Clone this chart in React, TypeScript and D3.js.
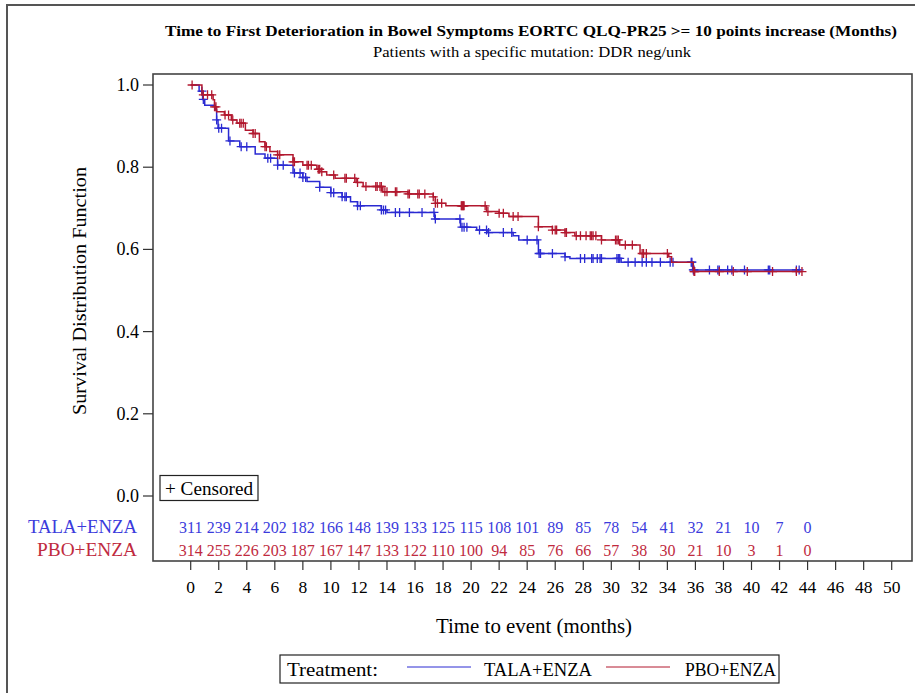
import React from "react";
import * as d3 from "d3";

// Kaplan–Meier estimates: event times (months) and survival right after each event
const talaEventMonths = [0.6, 0.85, 1.0, 1.75, 1.85, 1.95, 2.7, 3.5, 4.6, 5.3, 6.2, 7.3, 8.0, 8.3, 9.2, 10.0, 10.8, 11.4, 11.9, 13.6, 14.0, 17.4, 19.25, 20.4, 21.2, 23.0, 23.4, 24.8, 26.7, 27.05, 30.7, 35.8];
const talaSurvival = [0.985, 0.965, 0.951, 0.939, 0.915, 0.895, 0.864, 0.85, 0.832, 0.822, 0.805, 0.786, 0.775, 0.765, 0.751, 0.738, 0.728, 0.716, 0.706, 0.696, 0.69, 0.674, 0.654, 0.647, 0.641, 0.633, 0.623, 0.59, 0.582, 0.578, 0.569, 0.55];
const talaCensorMonths = [0.8, 0.9, 1.85, 2.0, 2.2, 2.8, 3.6, 4.0, 5.5, 5.7, 6.2, 6.6, 7.4, 7.8, 8.0, 8.2, 9.2, 10.0, 10.2, 10.8, 11.0, 11.1, 11.9, 12.1, 13.6, 13.75, 13.9, 14.6, 14.9, 15.6, 16.5, 17.35, 17.45, 19.2, 19.35, 19.5, 19.7, 20.6, 21.1, 21.25, 22.3, 22.9, 24.0, 24.7, 24.85, 24.95, 25.8, 26.7, 27.8, 28.1, 28.6, 28.7, 29.0, 29.2, 29.3, 30.4, 30.5, 30.6, 31.2, 31.7, 32.2, 32.5, 32.9, 33.5, 34.2, 34.4, 35.7, 35.75, 35.85, 35.9, 37.0, 37.6, 37.7, 38.3, 38.6, 39.5, 41.2, 41.3, 43.2, 43.4];
const talaLastMonth = 43.4;

const pboEventMonths = [0.8, 1.6, 1.7, 1.85, 2.4, 2.9, 3.3, 3.9, 4.45, 4.9, 5.3, 5.65, 6.2, 7.3, 8.0, 9.0, 9.3, 9.7, 10.3, 11.8, 12.3, 13.7, 15.5, 17.3, 17.45, 18.2, 21.1, 22.0, 22.7, 24.8, 25.8, 26.7, 27.4, 29.3, 30.6, 32.05, 34.1, 34.3, 35.85];
const pboSurvival = [0.976, 0.964, 0.947, 0.935, 0.927, 0.915, 0.907, 0.89, 0.882, 0.862, 0.85, 0.838, 0.83, 0.813, 0.805, 0.795, 0.789, 0.781, 0.773, 0.763, 0.753, 0.74, 0.735, 0.728, 0.712, 0.706, 0.692, 0.688, 0.68, 0.655, 0.647, 0.641, 0.633, 0.623, 0.611, 0.59, 0.582, 0.569, 0.546];
const pboCensorMonths = [0.1, 0.9, 1.2, 1.5, 1.7, 1.8, 2.45, 2.7, 3.0, 3.5, 3.6, 3.75, 4.45, 4.6, 5.3, 5.4, 6.2, 6.35, 7.3, 7.4, 8.3, 8.4, 8.6, 9.1, 9.2, 9.35, 10.2, 11.0, 11.1, 11.7, 11.9, 12.5, 13.2, 13.3, 13.5, 13.6, 13.85, 14.0, 14.6, 14.7, 15.5, 15.6, 16.2, 16.3, 16.7, 17.3, 17.45, 17.6, 17.9, 19.3, 19.35, 19.4, 19.45, 19.5, 21.0, 21.2, 22.0, 22.3, 23.0, 23.35, 24.8, 25.8, 26.0, 26.1, 26.7, 26.8, 27.5, 27.8, 28.2, 28.5, 28.6, 28.7, 28.9, 29.3, 30.3, 30.4, 30.5, 31.0, 31.5, 32.2, 32.3, 32.5, 34.0, 35.9, 35.95, 37.7, 38.7, 39.7, 41.5, 43.2, 43.6];
const pboLastMonth = 43.6;

// Number at risk table
const atRiskMonths = [0, 2, 4, 6, 8, 10, 12, 14, 16, 18, 20, 22, 24, 26, 28, 30, 32, 34, 36, 38, 40, 42, 44];
const talaAtRisk = [311, 239, 214, 202, 182, 166, 148, 139, 133, 125, 115, 108, 101, 89, 85, 78, 54, 41, 32, 21, 10, 7, 0];
const pboAtRisk = [314, 255, 226, 203, 187, 167, 147, 133, 122, 110, 100, 94, 85, 76, 66, 57, 38, 30, 21, 10, 3, 1, 0];

const xTicks = d3.range(0, 51, 2);
const yTicks = [0, 0.2, 0.4, 0.6, 0.8, 1.0];

const titleText = "Time to First Deterioration in Bowel Symptoms EORTC QLQ-PR25 >= 10 points increase (Months)";
const subtitleText = "Patients with a specific mutation: DDR neg/unk";
const armNames = ["TALA+ENZA", "PBO+ENZA"];

const BLUE = "#2a2ad2";
const RED = "#b2182f";
const BLUE_TXT = "#3b3bdc";
const RED_TXT = "#c02a3e";
const FONT = '"Liberation Serif", Tinos, "Times New Roman", Times, serif';

const W = 915;
const H = 693;
const box = { left: 153, top: 74, right: 912, bottom: 561 };

const x = d3.scaleLinear().domain([0, 50]).range([190.7, 891.7]);
const y = d3.scaleLinear().domain([0, 1]).range([496, 85]);

function stepPoints(times: number[], surv: number[], last: number): [number, number][] {
  const pts: [number, number][] = [[0, 1]];
  times.forEach((t, i) => pts.push([t, surv[i]]));
  pts.push([last, surv[surv.length - 1]]);
  return pts;
}

function survAt(times: number[], surv: number[], t: number): number {
  let s = 1;
  for (let i = 0; i < times.length; i++) {
    if (times[i] <= t) s = surv[i];
    else break;
  }
  return s;
}

const line = d3
  .line<[number, number]>()
  .x((d) => x(d[0]))
  .y((d) => y(d[1]))
  .curve(d3.curveStepAfter);

const arms = [
  { name: armNames[0], color: BLUE, times: talaEventMonths, surv: talaSurvival, cens: talaCensorMonths, last: talaLastMonth },
  { name: armNames[1], color: RED, times: pboEventMonths, surv: pboSurvival, cens: pboCensorMonths, last: pboLastMonth },
];

function Plus({ cx, cy, color }: { cx: number; cy: number; color: string }) {
  const h = 4.5;
  return (
    <path d={`M${cx - h},${cy}H${cx + h}M${cx},${cy - h}V${cy + h}`} stroke={color} strokeWidth={1.3} fill="none" />
  );
}

export default function App() {
  return (
    <svg
      width={W}
      height={H}
      viewBox={`0 0 ${W} ${H}`}
      style={{ position: "absolute", left: 0, top: 0, background: "#fff", fontFamily: FONT }}
    >
      {/* outer frame */}
      <rect x={7} y={5} width={W + 10} height={H + 10} fill="none" stroke="#555" strokeWidth={2} />

      {/* titles */}
      <text x={531} y={36} textAnchor="middle" fontSize={15} fontWeight="bold" textLength={732} lengthAdjust="spacingAndGlyphs">
        {titleText}
      </text>
      <text x={532} y={57} textAnchor="middle" fontSize={14} textLength={318} lengthAdjust="spacingAndGlyphs">
        {subtitleText}
      </text>

      {/* plot frame */}
      <rect x={box.left} y={box.top} width={box.right - box.left} height={box.bottom - box.top} fill="none" stroke="#444" strokeWidth={1.6} />

      {/* y axis */}
      {yTicks.map((v) => (
        <g key={v}>
          <line x1={box.left - 10} x2={box.left} y1={y(v)} y2={y(v)} stroke="#333" strokeWidth={1.2} />
          <text x={139} y={y(v) + 6} textAnchor="end" fontSize={18}>
            {d3.format(".1f")(v)}
          </text>
        </g>
      ))}
      <text
        transform={`translate(86,291) rotate(-90)`}
        textAnchor="middle"
        fontSize={19}
        textLength={248}
        lengthAdjust="spacingAndGlyphs"
      >
        Survival Distribution Function
      </text>

      {/* x axis */}
      {xTicks.map((t) => (
        <g key={t}>
          <line x1={x(t)} x2={x(t)} y1={box.bottom} y2={box.bottom + 9} stroke="#333" strokeWidth={1.2} />
          <text x={x(t)} y={593} textAnchor="middle" fontSize={17.5}>
            {t}
          </text>
        </g>
      ))}
      <text x={534} y={633} textAnchor="middle" fontSize={20} textLength={196} lengthAdjust="spacingAndGlyphs">
        Time to event (months)
      </text>

      {/* survival curves */}
      {arms.map((a) => (
        <g key={a.name}>
          <path d={line(stepPoints(a.times, a.surv, a.last)) || ""} fill="none" stroke={a.color} strokeWidth={1.5} />
          {a.cens.map((t, i) => (
            <Plus key={i} cx={x(t)} cy={y(survAt(a.times, a.surv, t))} color={a.color} />
          ))}
        </g>
      ))}

      {/* censored key */}
      <rect x={160} y={475.5} width={98} height={25} fill="#fff" stroke="#222" strokeWidth={1.2} />
      <text x={165} y={495} fontSize={18} textLength={88} lengthAdjust="spacingAndGlyphs">
        + Censored
      </text>

      {/* number at risk */}
      <text x={137} y={533} textAnchor="end" fontSize={18} fill={BLUE_TXT} textLength={109} lengthAdjust="spacingAndGlyphs">
        {armNames[0]}
      </text>
      <text x={137} y={556} textAnchor="end" fontSize={18} fill={RED_TXT} textLength={100} lengthAdjust="spacingAndGlyphs">
        {armNames[1]}
      </text>
      {atRiskMonths.map((t, i) => (
        <g key={t}>
          <text x={x(t)} y={533} textAnchor="middle" fontSize={16} fill={BLUE_TXT}>
            {talaAtRisk[i]}
          </text>
          <text x={x(t)} y={556} textAnchor="middle" fontSize={16} fill={RED_TXT}>
            {pboAtRisk[i]}
          </text>
        </g>
      ))}

      {/* legend */}
      <rect x={280} y={655} width={499} height={28} fill="#fff" stroke="#222" strokeWidth={1.2} />
      <text x={287} y={676} fontSize={19} textLength={91} lengthAdjust="spacingAndGlyphs">
        Treatment:
      </text>
      <line x1={407} x2={471} y1={667} y2={667} stroke={BLUE} strokeWidth={1} />
      <text x={484} y={676} fontSize={19} textLength={108} lengthAdjust="spacingAndGlyphs">
        {armNames[0]}
      </text>
      <line x1={606} x2={670} y1={667} y2={667} stroke={RED} strokeWidth={1} />
      <text x={685} y={676} fontSize={19} textLength={91} lengthAdjust="spacingAndGlyphs">
        {armNames[1]}
      </text>
    </svg>
  );
}
